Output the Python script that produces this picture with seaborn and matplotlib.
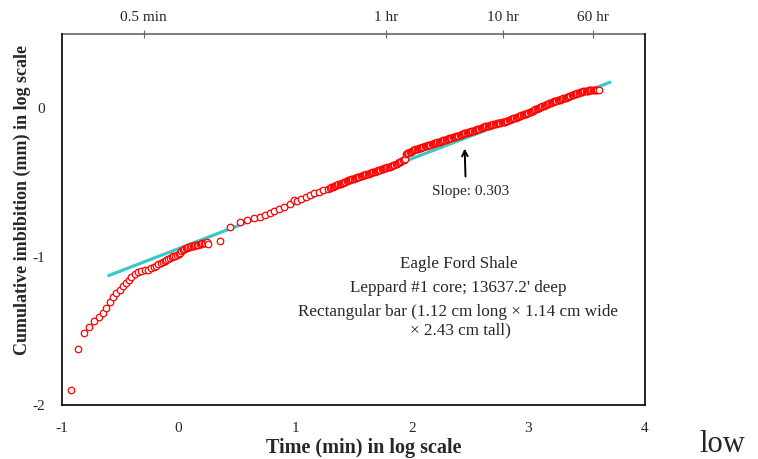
import numpy as np
import matplotlib
matplotlib.use("Agg")
import matplotlib.pyplot as plt
import seaborn as sns
from matplotlib.ticker import MultipleLocator

# --- dados (log10 do tempo em min, log10 da embebicao em mm) ---
# trecho inicial (ate ~1.8 min)
time_early = [
    -0.92, -0.86, -0.81, -0.766, -0.726, -0.686, -0.652, -0.62, -0.592, -0.563,
    -0.534, -0.506, -0.478, -0.455, -0.429, -0.406, -0.377, -0.349, -0.32, -0.292,
    -0.263, -0.234, -0.215, -0.195, -0.175, -0.155, -0.135, -0.12, -0.105, -0.09,
    -0.075, -0.06, -0.045, -0.03, -0.015, 0.0, 0.012, 0.024, 0.036, 0.048,
    0.06, 0.072, 0.084, 0.096, 0.108, 0.12, 0.132, 0.144, 0.156, 0.168,
    0.18, 0.192, 0.204, 0.216, 0.228, 0.24, 0.251,
]
imb_early = [
    -1.90, -1.62, -1.516, -1.471, -1.437, -1.405, -1.378, -1.345, -1.304, -1.275,
    -1.248, -1.223, -1.201, -1.18, -1.157, -1.135, -1.117, -1.101, -1.095, -1.09,
    -1.09, -1.079, -1.072, -1.063, -1.053, -1.044, -1.034, -1.027, -1.021, -1.014,
    -1.008, -1.003, -0.998, -0.994, -0.989, -0.983, -0.975, -0.965, -0.955, -0.947,
    -0.942, -0.939, -0.936, -0.933, -0.931, -0.929, -0.927, -0.925, -0.923, -0.92,
    -0.917, -0.914, -0.911, -0.908, -0.905, -0.903, -0.914,
]

# trecho intermediario (~2 min ate ~1.5 hr)
time_mid = [
    0.352, 0.437, 0.523, 0.586, 0.643, 0.695, 0.743, 0.78, 0.818, 0.858,
    0.903, 0.952, 0.986, 1.015, 1.052, 1.089, 1.124, 1.16, 1.201, 1.238,
    1.281, 1.30, 1.31, 1.32, 1.33, 1.34, 1.35, 1.36, 1.37, 1.38,
    1.39, 1.40, 1.41, 1.42, 1.43, 1.44, 1.45, 1.46, 1.47, 1.48,
    1.49, 1.50, 1.51, 1.52, 1.53, 1.54, 1.55, 1.56, 1.57, 1.58,
    1.59, 1.60, 1.61, 1.62, 1.63, 1.64, 1.65, 1.66, 1.67, 1.68,
    1.69, 1.70, 1.71, 1.72, 1.73, 1.74, 1.75, 1.76, 1.77, 1.78,
    1.79, 1.80, 1.81, 1.82, 1.83, 1.84, 1.85, 1.86, 1.87, 1.88,
    1.89, 1.90, 1.91, 1.92, 1.93, 1.941,
]
imb_mid = [
    -0.892, -0.802, -0.768, -0.752, -0.741, -0.734, -0.718, -0.707, -0.694, -0.682,
    -0.667, -0.644, -0.617, -0.626, -0.61, -0.595, -0.583, -0.572, -0.565, -0.554,
    -0.543, -0.536, -0.532, -0.529, -0.525, -0.522, -0.519, -0.516, -0.513, -0.51,
    -0.508, -0.505, -0.501, -0.498, -0.494, -0.491, -0.487, -0.484, -0.481, -0.479,
    -0.476, -0.474, -0.471, -0.469, -0.466, -0.464, -0.461, -0.458, -0.455, -0.453,
    -0.45, -0.447, -0.445, -0.442, -0.44, -0.437, -0.435, -0.432, -0.43, -0.427,
    -0.424, -0.421, -0.419, -0.416, -0.414, -0.411, -0.409, -0.406, -0.404, -0.401,
    -0.398, -0.395, -0.393, -0.39, -0.387, -0.384, -0.381, -0.377, -0.373, -0.369,
    -0.365, -0.36, -0.356, -0.351, -0.348, -0.345,
]

# trecho final (~1.5 hr ate ~66 hr)
time_late = [
    1.953, 1.96, 1.97, 1.98, 1.99, 2.00, 2.01, 2.02, 2.03, 2.04,
    2.05, 2.06, 2.07, 2.08, 2.09, 2.10, 2.11, 2.12, 2.13, 2.14,
    2.15, 2.16, 2.17, 2.18, 2.19, 2.20, 2.21, 2.22, 2.23, 2.24,
    2.25, 2.26, 2.27, 2.28, 2.29, 2.30, 2.31, 2.32, 2.33, 2.34,
    2.35, 2.36, 2.37, 2.38, 2.39, 2.40, 2.41, 2.42, 2.43, 2.44,
    2.45, 2.46, 2.47, 2.48, 2.49, 2.50, 2.51, 2.52, 2.53, 2.54,
    2.55, 2.56, 2.57, 2.58, 2.59, 2.60, 2.61, 2.62, 2.63, 2.64,
    2.65, 2.66, 2.67, 2.68, 2.69, 2.70, 2.71, 2.72, 2.73, 2.74,
    2.75, 2.76, 2.77, 2.78, 2.79, 2.80, 2.81, 2.82, 2.83, 2.84,
    2.85, 2.86, 2.87, 2.88, 2.89, 2.90, 2.91, 2.92, 2.93, 2.94,
    2.95, 2.96, 2.97, 2.98, 2.99, 3.00, 3.01, 3.02, 3.03, 3.04,
    3.05, 3.06, 3.07, 3.08, 3.09, 3.10, 3.11, 3.12, 3.13, 3.14,
    3.15, 3.16, 3.17, 3.18, 3.19, 3.20, 3.21, 3.22, 3.23, 3.24,
    3.25, 3.26, 3.27, 3.28, 3.29, 3.30, 3.31, 3.32, 3.33, 3.34,
    3.35, 3.36, 3.37, 3.38, 3.39, 3.40, 3.41, 3.42, 3.43, 3.44,
    3.45, 3.46, 3.47, 3.48, 3.49, 3.50, 3.51, 3.52, 3.53, 3.54,
    3.55, 3.56, 3.57, 3.58, 3.59, 3.602,
]
imb_late = [
    -0.306, -0.303, -0.3, -0.296, -0.292, -0.288, -0.284, -0.281, -0.278, -0.275,
    -0.272, -0.27, -0.267, -0.265, -0.262, -0.26, -0.257, -0.255, -0.252, -0.25,
    -0.247, -0.245, -0.242, -0.24, -0.237, -0.235, -0.232, -0.23, -0.227, -0.225,
    -0.222, -0.219, -0.216, -0.214, -0.211, -0.209, -0.206, -0.204, -0.201, -0.199,
    -0.196, -0.194, -0.191, -0.189, -0.186, -0.184, -0.182, -0.179, -0.176, -0.173,
    -0.17, -0.168, -0.165, -0.163, -0.16, -0.158, -0.156, -0.154, -0.151, -0.149,
    -0.146, -0.143, -0.14, -0.137, -0.134, -0.131, -0.128, -0.126, -0.123, -0.121,
    -0.119, -0.117, -0.115, -0.113, -0.111, -0.109, -0.107, -0.105, -0.103, -0.101,
    -0.099, -0.098, -0.096, -0.094, -0.092, -0.09, -0.087, -0.084, -0.081, -0.078,
    -0.075, -0.072, -0.069, -0.066, -0.063, -0.06, -0.057, -0.053, -0.05, -0.047,
    -0.044, -0.041, -0.038, -0.036, -0.033, -0.03, -0.026, -0.023, -0.019, -0.016,
    -0.012, -0.008, -0.004, -0.001, 0.003, 0.006, 0.01, 0.013, 0.017, 0.02,
    0.024, 0.027, 0.031, 0.034, 0.038, 0.041, 0.043, 0.046, 0.048, 0.051,
    0.053, 0.056, 0.058, 0.061, 0.063, 0.066, 0.069, 0.072, 0.075, 0.078,
    0.081, 0.084, 0.087, 0.09, 0.093, 0.096, 0.099, 0.102, 0.105, 0.108,
    0.11, 0.112, 0.114, 0.116, 0.117, 0.118, 0.119, 0.12, 0.121, 0.121,
    0.122, 0.122, 0.123, 0.124, 0.125, 0.126,
]

log_time = time_early + time_mid + time_late
log_imbibition = imb_early + imb_mid + imb_late

# reta ajustada (inclinacao 0.303)
fit_x = [-0.6, 3.7]
fit_slope = 0.303
fit_intercept = -0.946
fit_y = [fit_intercept + fit_slope * x for x in fit_x]

# eixo superior: tempos de referencia em minutos
top_minutes = [0.5, 60, 600, 3600]
top_labels = ["0.5 min", "1 hr", "10 hr", "60 hr"]

info_lines = [
    "Eagle Ford Shale",
    "Leppard #1 core; 13637.2' deep",
    "Rectangular bar (1.12 cm long \u00d7 1.14 cm wide",
    "\u00d7 2.43 cm tall)",
]

sns.set_style("white")
plt.rcParams['font.family'] = ['Liberation Serif', 'DejaVu Serif']
plt.rcParams['axes.unicode_minus'] = False

fig = plt.figure(figsize=(7.58, 4.59), dpi=100)
ax = fig.add_axes([0.0818, 0.1176, 0.7692, 0.8083])

sns.lineplot(x=fit_x, y=fit_y, ax=ax, color="#3cc8c8", linewidth=2.3)
sns.scatterplot(x=log_time, y=log_imbibition, ax=ax, marker="o", s=22,
                facecolor="white", edgecolor="red", linewidth=0.9, zorder=3)

ax.set_xlim(-1, 4)
ax.set_ylim(-2, 0.5)
ax.xaxis.set_major_locator(MultipleLocator(1))
ax.xaxis.set_minor_locator(MultipleLocator(0.2))
ax.yaxis.set_major_locator(MultipleLocator(1))
ax.yaxis.set_minor_locator(MultipleLocator(0.2))
ax.tick_params(which="major", direction="out", length=4, width=0.8, labelsize=11, pad=8)
ax.tick_params(which="minor", direction="in", length=4, width=0.6, color="#888888")
ax.tick_params(axis="y", which="both", right=False)
ax.tick_params(axis="x", which="both", top=False)

for side in ["left", "bottom", "right"]:
    ax.spines[side].set_color("black")
    ax.spines[side].set_linewidth(1.2)
ax.spines["top"].set_visible(False)

ax.set_xlabel("Time (min) in log scale", fontsize=14.5, fontweight="bold")
ax.set_ylabel("Cumulative imbibition (mm) in log scale", fontsize=13,
              fontweight="bold")
ax.xaxis.set_label_coords(0.518, -0.116)
ax.yaxis.set_label_coords(-0.0686, 0.553)
ax.xaxis.label.set_va("center")
ax.yaxis.label.set_va("center")

secax = ax.secondary_xaxis("top")
secax.set_xticks([np.log10(m) for m in top_minutes], labels=top_labels)
secax.tick_params(direction="inout", length=6, width=0.8, color="#666666",
                  labelsize=11, pad=4)
secax.spines["top"].set_color("#666666")
secax.spines["top"].set_linewidth(1.2)

# seta e texto da inclinacao
ax.annotate("", xy=(2.453, -0.272), xytext=(2.46, -0.46),
            arrowprops=dict(arrowstyle="->", color="black", lw=1.4,
                            shrinkA=0, shrinkB=0))
ax.text(2.5, -0.56, "Slope: 0.303", ha="center", va="center", fontsize=11)

ax.text(2.4, -1.05, info_lines[0], ha="center", va="center", fontsize=12.3)
ax.text(2.4, -1.21, info_lines[1], ha="center", va="center", fontsize=12.3)
ax.text(2.4, -1.372, info_lines[2], ha="center", va="center", fontsize=12.3)
ax.text(2.42, -1.50, info_lines[3], ha="center", va="center", fontsize=12.3)

fig.text(0.923, 0.015, "low", fontsize=22, ha="left", va="baseline")

fig.savefig("out.png", dpi=100)
